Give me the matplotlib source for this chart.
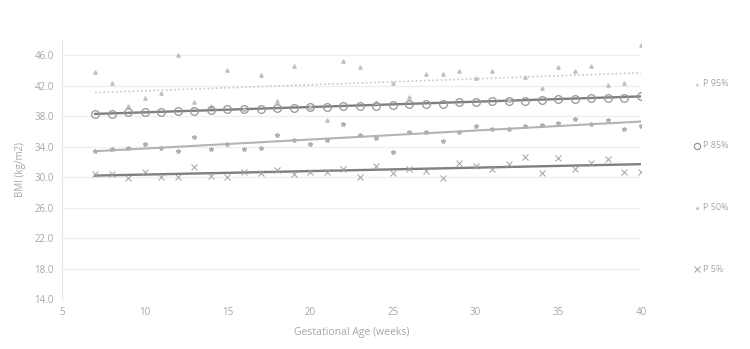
import numpy as np
import matplotlib
matplotlib.use('Agg')
from matplotlib import pyplot as plt

plt.rcParams['font.family'] = ['Open Sans', 'DejaVu Sans']

'''weekly percentile values'''
weeks = list(range(7, 41))
p95 = [43.8, 42.4, 39.4, 40.4, 41.1, 46.1, 39.9, 39.3, 44.0, 39.0, 43.4, 40.0,
       44.6, 39.2, 37.5, 45.2, 44.4, 39.9, 42.3, 40.5, 43.6, 43.5, 43.9, 43.0,
       43.9, 40.1, 43.2, 41.7, 44.5, 43.9, 44.6, 42.1, 42.3, 47.4]
p85 = [38.26, 38.35, 38.5, 38.5, 38.6, 38.65, 38.65, 38.8, 38.9, 38.9, 38.95, 39.1,
       39.1, 39.2, 39.2, 39.3, 39.4, 39.4, 39.45, 39.6, 39.6, 39.65, 39.8, 39.9,
       39.95, 40.05, 40.05, 40.15, 40.2, 40.2, 40.35, 40.4, 40.45, 40.6]
p50 = [33.4, 33.7, 33.8, 34.4, 33.8, 33.4, 35.3, 33.7, 34.4, 33.7, 33.8, 35.5,
       34.9, 34.4, 34.9, 37.0, 35.5, 35.2, 33.3, 35.9, 35.9, 34.8, 35.9, 36.7,
       36.3, 36.3, 36.7, 36.9, 37.1, 37.6, 37.0, 37.5, 36.3, 36.7]
p5 = [30.4, 30.4, 29.9, 30.7, 30.0, 30.0, 31.3, 30.2, 30.0, 30.7, 30.6, 31.0,
      30.4, 30.7, 30.7, 31.1, 30.0, 31.5, 30.5, 31.1, 30.8, 29.9, 31.9, 31.4,
      31.1, 31.7, 32.7, 30.6, 32.5, 31.1, 31.9, 32.4, 30.7, 30.7]

# linear trend lines, value at week 7 and week 40
trend_weeks = [7, 40]
p95_trend = [41.1, 43.7]
p85_trend = [38.3, 40.6]
p50_trend = [33.4, 37.3]
p5_trend = [30.2, 31.7]

legend_labels = ['P 95%', 'P 85%', 'P 50%', 'P 5%']

fig = plt.figure(figsize=(7.5, 3.49), dpi=100)
ax = fig.add_axes([0.0827, 0.1433, 0.772, 0.742])

txt = '#a6a6a6'

# trend lines first, markers on top
ax.plot(trend_weeks, p95_trend, color='#c8c8c8', lw=1.2, ls=(0, (1, 1.5)), zorder=2)
ax.plot(trend_weeks, p85_trend, color='#7f7f7f', lw=1.7, zorder=2)
ax.plot(trend_weeks, p50_trend, color='#b4b4b4', lw=1.5, zorder=2)
ax.plot(trend_weeks, p5_trend, color='#7f7f7f', lw=1.7, zorder=2)

ax.plot(weeks, p95, ls='none', marker='^', ms=2.4, color='#c0c0c0', zorder=3)
ax.plot(weeks, p85, ls='none', marker='o', ms=5.5, mfc='none', mec='#959595', mew=0.9, zorder=3)
ax.plot(weeks, p50, ls='none', marker='*', ms=3.2, color='#b0b0b0', zorder=3)
ax.plot(weeks, p5, ls='none', marker='x', ms=4.2, color='#a0a0a0', mew=0.7, zorder=3)

ax.set_xlim(5, 40)
ax.set_ylim(14, 48)
ax.set_xticks(np.arange(5, 41, 5))
ax.set_yticks(np.arange(14, 47, 4))
ax.set_yticklabels(['%.1f' % v for v in np.arange(14, 47, 4)])
ax.tick_params(length=0, colors=txt, labelsize=7, pad=6)
ax.grid(axis='y', color='#eeeeee', lw=0.9)
ax.set_axisbelow(True)
for s in ['top', 'right', 'bottom']:
    ax.spines[s].set_visible(False)
ax.spines['left'].set_color('#e6e6e6')

ax.set_xlabel('Gestational Age (weeks)', color=txt, fontsize=7.5, labelpad=6)
ax.set_ylabel('BMI (kg/m2)', color=txt, fontsize=7, labelpad=6)

'''legend on the right side'''
leg_y = [0.76, 0.583, 0.405, 0.228]
leg_style = [dict(marker='^', ms=2.4, color='#c0c0c0', mfc='#c0c0c0', mew=0),
             dict(marker='o', ms=4.5, mfc='none', mec='#959595', mew=0.9),
             dict(marker='*', ms=3.2, color='#b0b0b0', mfc='#b0b0b0', mew=0),
             dict(marker='x', ms=4.2, color='#a0a0a0', mew=0.7)]
for lab, yy, st in zip(legend_labels, leg_y, leg_style):
    fig.lines.append(plt.Line2D([0.929], [yy], ls='none', transform=fig.transFigure, **st))
    fig.text(0.937, yy, lab, color=txt, fontsize=6.5, va='center', ha='left')

fig.savefig('out.png', dpi=100, facecolor='white')
